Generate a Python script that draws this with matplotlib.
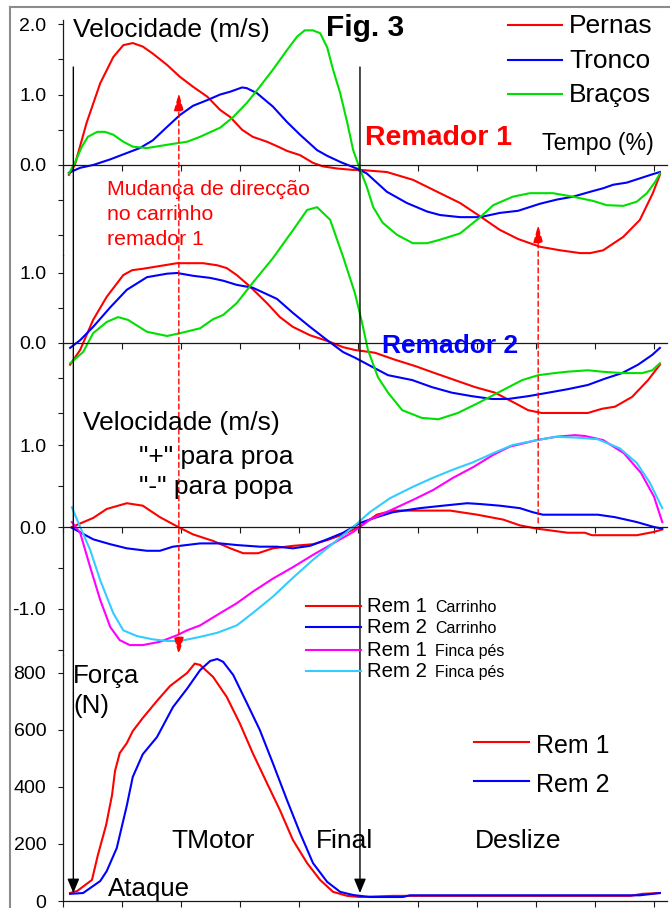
import matplotlib

matplotlib.use("Agg")
import matplotlib.pyplot as plt
from matplotlib.lines import Line2D
from matplotlib.patches import ConnectionPatch

plt.rcParams["font.family"] = ["Liberation Sans", "DejaVu Sans"]

# --- Remador 1: velocidade (m/s) vs tempo (%) ---
pernas1_t = [1, 2, 4, 6.3, 8.5, 10.2, 11.8, 13.5, 15.2, 17.6, 19.8, 22, 24.4, 26.6, 28.3,
             30.3, 32.1, 34.5, 36.4, 37.9, 40.1, 42.3, 44, 46.4, 49.1, 50.3, 54.8, 59.2,
             63.8, 67.2, 70.6, 73.9, 77, 80.7, 84.1, 87.5, 89.2, 91.4, 94.8, 97.6, 99.8, 101]
pernas1_v = [-0.14, 0.0, 0.60, 1.16, 1.53, 1.70, 1.73, 1.68, 1.58, 1.42, 1.25, 1.11, 0.97,
             0.78, 0.68, 0.50, 0.40, 0.33, 0.26, 0.20, 0.14, 0.03, -0.02, -0.05, -0.07,
             -0.07, -0.10, -0.21, -0.40, -0.54, -0.73, -0.92, -1.05, -1.16, -1.21, -1.25,
             -1.25, -1.21, -1.02, -0.78, -0.40, -0.14]
tronco1_t = [1, 2.9, 5.1, 8, 10.8, 13, 15.2, 17.6, 19.8, 22, 24.4, 26.6, 28.3, 30.3, 31.1,
             32.8, 35.5, 37.9, 40.1, 43, 44.7, 47, 49.7, 51.4, 54.8, 58.2, 61.6, 63.8, 67.2,
             70.6, 73.9, 77, 80.7, 83.6, 86.3, 89.2, 91.4, 93.1, 95.4, 97.6, 99.8, 101]
tronco1_v = [-0.11, -0.04, 0.0, 0.08, 0.17, 0.24, 0.35, 0.54, 0.71, 0.84, 0.92, 1.0, 1.04,
             1.10, 1.09, 1.02, 0.83, 0.61, 0.43, 0.21, 0.13, 0.04, -0.05, -0.12, -0.38,
             -0.54, -0.66, -0.71, -0.74, -0.74, -0.68, -0.65, -0.55, -0.49, -0.45, -0.38,
             -0.33, -0.28, -0.25, -0.19, -0.13, -0.10]
bracos1_t = [1, 2, 3.2, 4.2, 5.8, 7.1, 8.5, 10.2, 11.8, 14.2, 16.4, 18.6, 21, 23.2, 26.6,
             28.8, 31.1, 33.3, 35.5, 37.9, 39.6, 40.9, 42.3, 43.5, 44.7, 45.7, 46.9, 48.1,
             49.1, 50.3, 51.4, 52.5, 54.1, 56.5, 59.2, 61.6, 63.8, 67.2, 70.6, 72.8, 76.1,
             79, 82.9, 86.3, 89.7, 92, 94.8, 97.1, 98.8, 100.2, 101]
bracos1_v = [-0.12, 0.03, 0.26, 0.40, 0.47, 0.47, 0.43, 0.33, 0.26, 0.24, 0.27, 0.30, 0.33,
             0.40, 0.53, 0.68, 0.88, 1.11, 1.35, 1.63, 1.82, 1.91, 1.91, 1.87, 1.67, 1.35,
             1.02, 0.60, 0.21, -0.07, -0.31, -0.60, -0.82, -0.99, -1.11, -1.11, -1.06,
             -0.97, -0.74, -0.57, -0.45, -0.40, -0.40, -0.45, -0.51, -0.57, -0.58, -0.52,
             -0.40, -0.24, -0.12]

# --- Remador 2 ---
pernas2_t = [1.2, 2.9, 5.1, 7.4, 10.2, 11.7, 13.5, 16.4, 19.3, 21, 23.7, 26.1, 27.7, 29.4,
             31.6, 34.5, 36.7, 38.9, 41.8, 44.7, 47.4, 49.4, 52.8, 56.2, 59.6, 62.9, 66.3,
             69.7, 73.1, 76.5, 78.7, 81, 85.4, 88.8, 91.2, 93.4, 96.3, 99, 101]
pernas2_v = [-0.31, -0.10, 0.33, 0.66, 0.97, 1.04, 1.06, 1.10, 1.14, 1.14, 1.14, 1.11, 1.07,
             0.97, 0.81, 0.57, 0.37, 0.23, 0.11, 0.03, -0.06, -0.10, -0.14, -0.24, -0.33,
             -0.43, -0.53, -0.63, -0.71, -0.86, -0.96, -1.0, -1.0, -1.0, -0.94, -0.91,
             -0.77, -0.53, -0.31]
tronco2_t = [1.2, 2.9, 5.1, 8, 10.8, 14.2, 17.6, 19.3, 22, 24.9, 27.1, 29.4, 32.1, 36.2,
             38.9, 41.8, 44.7, 47.4, 49.4, 52.3, 55, 59.1, 62.4, 65.8, 69.2, 72.6, 75.3,
             78.7, 82.1, 85.4, 88.8, 91.7, 94.6, 97.3, 99.7, 101]
tronco2_v = [-0.07, 0.04, 0.23, 0.51, 0.76, 0.94, 0.99, 1.0, 0.96, 0.93, 0.89, 0.83, 0.79,
             0.63, 0.43, 0.23, 0.04, -0.13, -0.21, -0.34, -0.46, -0.53, -0.63, -0.71,
             -0.76, -0.80, -0.80, -0.76, -0.71, -0.66, -0.60, -0.51, -0.43, -0.31, -0.17,
             -0.07]
bracos2_t = [1.2, 3.4, 5.1, 7.4, 9.3, 11, 14.2, 17.6, 19.8, 23.2, 25.4, 27.1, 29.4, 32.1,
             35.5, 38.9, 41.3, 43, 45.2, 47.4, 49.4, 50.6, 51.6, 53.3, 55, 57.4, 60.7, 63.5,
             66.8, 70.2, 73.6, 77.7, 80.4, 83.2, 85.4, 88.8, 91.2, 94.6, 98, 99.7, 101]
bracos2_v = [-0.29, -0.13, 0.14, 0.30, 0.37, 0.33, 0.16, 0.10, 0.14, 0.21, 0.34, 0.40, 0.57,
             0.86, 1.21, 1.61, 1.90, 1.94, 1.76, 1.23, 0.71, 0.29, -0.10, -0.49, -0.71,
             -0.96, -1.07, -1.09, -1.0, -0.86, -0.71, -0.53, -0.46, -0.43, -0.41, -0.39,
             -0.41, -0.43, -0.43, -0.39, -0.29]

# --- carrinho e finca pes ("+" para proa, "-" para popa) ---
rem1c_t = [1.5, 5.1, 7.4, 10.8, 13.5, 16.4, 19.5, 22, 25.4, 28.3, 30.5, 33, 35.5, 38.9,
           42.3, 44.7, 47.4, 50.3, 53.1, 55.8, 61.6, 65.5, 70.1, 74.5, 77.3, 80.2, 85.4,
           88.3, 89.5, 97.1, 100, 101.4]
rem1c_v = [0.0, 0.11, 0.22, 0.29, 0.26, 0.12, 0.0, -0.09, -0.17, -0.26, -0.32, -0.32,
           -0.26, -0.23, -0.21, -0.16, -0.09, 0.01, 0.15, 0.20, 0.20, 0.20, 0.15, 0.09,
           0.02, -0.02, -0.07, -0.07, -0.10, -0.10, -0.06, -0.03]
rem2c_t = [1.5, 5.1, 8, 10.8, 14.2, 16.4, 18.6, 23.2, 26.6, 29.4, 33.3, 36.2, 38.9, 41.8,
           44.7, 47.4, 50.3, 53.1, 55.8, 60.4, 64.3, 68.4, 70.6, 73.9, 77.3, 79.5, 81.2,
           87.5, 90.5, 93.4, 97.1, 100, 101.4]
rem2c_v = [-0.01, -0.15, -0.21, -0.26, -0.29, -0.29, -0.24, -0.20, -0.20, -0.22, -0.24,
           -0.24, -0.26, -0.23, -0.15, -0.07, 0.05, 0.12, 0.18, 0.23, 0.26, 0.29, 0.28,
           0.26, 0.23, 0.18, 0.15, 0.15, 0.15, 0.12, 0.06, 0.0, -0.02]
rem1f_t = [1.5, 2.9, 4.6, 6.3, 8, 9.6, 11.3, 13.5, 16.4, 19.3, 21, 23.2, 26.6, 29.4, 32.1,
           35.5, 38.9, 42.3, 45.7, 49.1, 51.9, 55.3, 59.2, 62.6, 66, 69.4, 72.8, 75.6,
           80.2, 83.4, 86.6, 88.3, 91.4, 94.9, 97.8, 100, 101.4]
rem1f_v = [0.06, -0.07, -0.49, -0.89, -1.22, -1.38, -1.44, -1.44, -1.40, -1.32, -1.26,
           -1.20, -1.05, -0.93, -0.79, -0.63, -0.49, -0.34, -0.20, -0.06, 0.09, 0.20, 0.33,
           0.45, 0.60, 0.73, 0.88, 0.98, 1.06, 1.10, 1.12, 1.11, 1.06, 0.90, 0.66, 0.37,
           0.06]
rem2f_t = [1.5, 2.9, 4.6, 6.3, 8.5, 10.2, 12.5, 15.2, 17.6, 19.8, 23.2, 26.1, 29.4, 32.1,
           35.5, 38.9, 42.3, 45.7, 49.1, 51.9, 55.3, 59.2, 62.6, 66, 69.4, 72.8, 76.1, 80.2,
           83.4, 87, 90.5, 94.2, 97.1, 99.3, 101.4]
rem2f_v = [0.24, 0.0, -0.28, -0.65, -1.05, -1.26, -1.33, -1.37, -1.39, -1.39, -1.34, -1.29,
           -1.20, -1.05, -0.85, -0.62, -0.40, -0.20, 0.0, 0.18, 0.35, 0.49, 0.60, 0.70,
           0.79, 0.90, 1.0, 1.06, 1.10, 1.09, 1.07, 0.96, 0.78, 0.54, 0.23]

# --- forca (N) ---
force1_t = [1.2, 2.4, 4.9, 5.9, 7.3, 8.3, 8.8, 9.6, 10.8, 11.8, 13.5, 15.9, 18.1, 21, 22.3,
            23.2, 25.4, 27.7, 29.9, 32.1, 34.5, 36.7, 38.9, 41.3, 43.5, 45.7, 48.1, 50.3,
            55.8, 96, 98, 101]
force1_v = [28, 35, 74, 161, 267, 372, 456, 519, 554, 596, 642, 702, 754, 800, 833, 828,
            786, 716, 624, 519, 414, 319, 214, 133, 74, 32, 18, 14, 18, 18, 25, 28]
force2_t = [1.2, 3.4, 6.3, 7.4, 9.1, 10.8, 11.8, 13.5, 15.9, 18.6, 21, 23.2, 24.9, 26.1,
            27.1, 28.8, 31.1, 33.3, 35.5, 37.9, 40.1, 42.3, 44.7, 46.9, 49.1, 51.9, 57.5,
            58.7, 97.6, 101]
force2_v = [25, 28, 70, 105, 186, 335, 435, 515, 575, 680, 745, 810, 842, 849, 839, 793,
            695, 600, 484, 354, 239, 133, 67, 32, 21, 14, 14, 20, 20, 28]

# instantes marcados (tempo %)
ataque_t = 1.75
final_t = 50.25
mudanca_t = 19.6
mudanca2_t = 80.4

RED, BLUE, GREEN = "#ff0000", "#0000ff", "#00e000"
MAGENTA, CYAN = "#ff00ff", "#33ccff"
AXC = "#1a1a1a"
LW = 1.5

W_PX, H_PX = 670, 908


def fx(x):
    return x / W_PX


def fy(y):
    return 1 - y / H_PX


fig = plt.figure(figsize=(6.7, 9.08), dpi=100)
fig.patch.set_facecolor("white")


def add_panel(top, bottom, ylim, major, labels, minor, zero_axis=True):
    ax = fig.add_axes([fx(63), fy(bottom), fx(667) - fx(63), (bottom - top) / H_PX])
    ax.set_facecolor("none")
    ax.set_xlim(0, 102.2)
    ax.set_ylim(*ylim)
    for s in ("top", "right"):
        ax.spines[s].set_visible(False)
    for s in ("left", "bottom"):
        ax.spines[s].set_color(AXC)
        ax.spines[s].set_linewidth(0.9)
    if zero_axis:
        ax.spines["bottom"].set_position(("data", 0))
    ax.set_xticks(range(0, 101, 10))
    ax.set_yticks(major)
    ax.set_yticklabels(labels)
    ax.set_yticks(minor, minor=True)
    ax.tick_params(axis="x", direction="out", length=4.5, width=0.8, color=AXC,
                   labelbottom=False)
    ax.tick_params(axis="y", which="both", direction="out", length=3.6, width=0.8,
                   color=AXC, pad=8.5, labelsize=14)
    return ax


ax1 = add_panel(20, 255, (-1.277, 2.057), [0, 1, 2], ["0.0", "1.0", "2.0"],
                [-1, -0.5, 0.5, 1.5])
ax2 = add_panel(255, 440, (-1.386, 1.257), [0, 1], ["0.0", "1.0"], [-1, -0.5, 0.5])
ax3 = add_panel(440, 655, (-1.561, 1.061), [-1, 0, 1], ["-1.0", "0.0", "1.0"],
                [-1.5, -0.5, 0.5])
ax4 = add_panel(655, 901, (0, 863), [0, 200, 400, 600, 800],
                ["0", "200", "400", "600", "800"], [], zero_axis=False)

kw = dict(lw=LW, clip_on=False)
ax1.plot(pernas1_t, pernas1_v, color=RED, **kw)
ax1.plot(tronco1_t, tronco1_v, color=BLUE, **kw)
ax1.plot(bracos1_t, bracos1_v, color=GREEN, **kw)
ax2.plot(pernas2_t, pernas2_v, color=RED, **kw)
ax2.plot(tronco2_t, tronco2_v, color=BLUE, **kw)
ax2.plot(bracos2_t, bracos2_v, color=GREEN, **kw)
ax3.plot(rem1c_t, rem1c_v, color=RED, **kw)
ax3.plot(rem2c_t, rem2c_v, color=BLUE, **kw)
ax3.plot(rem1f_t, rem1f_v, color=MAGENTA, **kw)
ax3.plot(rem2f_t, rem2f_v, color=CYAN, **kw)
ax4.plot(force1_t, force1_v, color=RED, **kw)
ax4.plot(force2_t, force2_v, color=BLUE, **kw)


def connect(t, ax_a, ya, ax_b, yb, style, color, lw, ls="-"):
    con = ConnectionPatch(xyA=(t, ya), coordsA=ax_a.transData,
                          xyB=(t, yb), coordsB=ax_b.transData,
                          arrowstyle=style, color=color, lw=lw, linestyle=ls,
                          mutation_scale=20, zorder=2)
    fig.add_artist(con)


# linhas de Ataque e Final
blk = "-|>,head_length=0.43,head_width=0.18"
connect(ataque_t, ax1, 1.39, ax4, 28, blk, "black", 1.0)
connect(final_t, ax1, 1.39, ax4, 28, blk, "black", 1.0)
# mudanca de direccao no carrinho
connect(mudanca_t, ax1, 1.02, ax3, -1.56, "<|-|>,head_length=0.54,head_width=0.15",
        RED, 1.0, (0, (3.6, 2.4)))
connect(mudanca2_t, ax3, 0.05, ax1, -0.85, "-|>,head_length=0.54,head_width=0.15",
        RED, 1.0, (0, (3.6, 2.4)))


def txt(x, y, s, size, **kw):
    fig.text(fx(x), fy(y), s, fontsize=size, ha="left", va="baseline", **kw)


def key(x0, x1, y, color, lw=LW):
    fig.add_artist(Line2D([fx(x0), fx(x1)], [fy(y), fy(y)], color=color, lw=lw,
                          transform=fig.transFigure))


# moldura
fig.add_artist(Line2D([fx(10), fx(10)], [fy(7), 0], color="#8c8c8c", lw=1.5,
                      transform=fig.transFigure))
fig.add_artist(Line2D([fx(10), 1], [fy(7), fy(7)], color="#8c8c8c", lw=1.5,
                      transform=fig.transFigure))

txt(73, 37, "Velocidade (m/s)", 19)
txt(326, 36, "Fig. 3", 21.5, fontweight="bold")

for y, c, lab in [(25, RED, "Pernas"), (60, BLUE, "Tronco"), (94, GREEN, "Braços")]:
    key(508, 562, y, c)
    txt(569, y + 8, lab, 19)

txt(365, 145, "Remador 1", 20.5, fontweight="bold", color=RED)
txt(542, 150, "Tempo (%)", 16.7)
txt(107, 195, "Mudança de direcção", 15.3, color=RED)
txt(107, 220, "no carrinho", 15.3, color=RED)
txt(107, 245, "remador 1", 15.3, color=RED)
txt(382, 353, "Remador 2", 19, fontweight="bold", color=BLUE)

txt(83, 430, "Velocidade (m/s)", 19)
txt(139, 464, '"+" para proa', 19)
txt(139, 494, '"-" para popa', 19)

for y, c, a, b in [(606, RED, "Rem 1", "Carrinho"), (627, BLUE, "Rem 2", "Carrinho"),
                   (650, MAGENTA, "Rem 1", "Finca pés"), (671, CYAN, "Rem 2", "Finca pés")]:
    key(306, 361, y, c)
    txt(367, y + 6, a, 14.7)
    txt(435, y + 6, b, 11.5)

txt(73, 683, "Força", 18.6)
txt(73, 713, "(N)", 18.6)
for y, c, lab in [(742, RED, "Rem 1"), (781, BLUE, "Rem 2")]:
    key(474, 529, y, c)
    txt(536, y + 11, lab, 18)

txt(171, 848, "TMotor", 19)
txt(316, 848, "Final", 19)
txt(475, 848, "Deslize", 19)
txt(108, 896, "Ataque", 18.6)

fig.savefig("out.png", dpi=100, facecolor="white")
